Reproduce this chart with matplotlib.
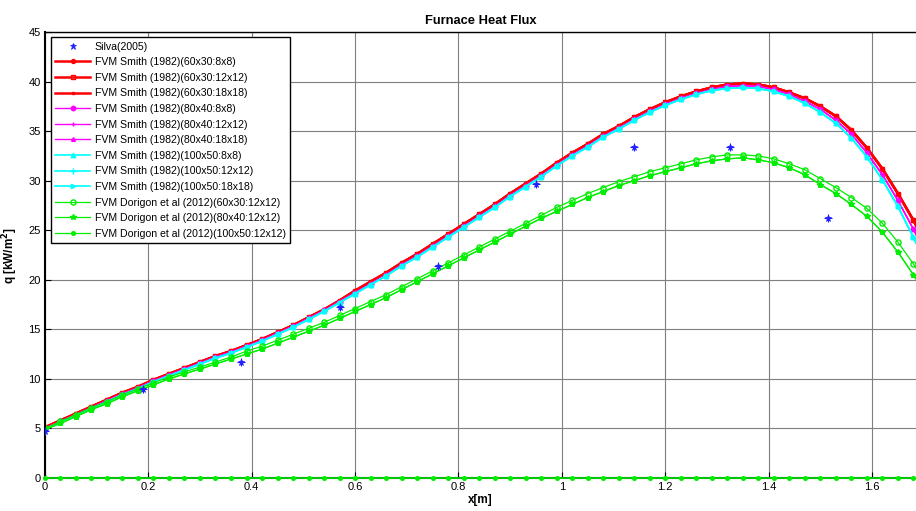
import matplotlib
matplotlib.use("Agg")
import matplotlib.pyplot as plt

plt.rcParams['font.family'] = ['Liberation Sans', 'DejaVu Sans']

title = "Furnace Heat Flux"
xlabel = "x[m]"
ylabel = "q [kW/m$^\\mathbf{2}$]"

x_grid = [0.00, 0.03, 0.06, 0.09, 0.12, 0.15, 0.18, 0.21, 0.24, 0.27, 0.30, 0.33, 0.36, 0.39,
          0.42, 0.45, 0.48, 0.51, 0.54, 0.57, 0.60, 0.63, 0.66, 0.69, 0.72, 0.75, 0.78, 0.81,
          0.84, 0.87, 0.90, 0.93, 0.96, 0.99, 1.02, 1.05, 1.08, 1.11, 1.14, 1.17, 1.20, 1.23,
          1.26, 1.29, 1.32, 1.35, 1.38, 1.41, 1.44, 1.47, 1.50, 1.53, 1.56, 1.59, 1.62, 1.65,
          1.68, 1.71]

smith_60x30 = [5.1, 5.8, 6.5, 7.2, 7.9, 8.6, 9.2, 9.9, 10.5, 11.1, 11.7, 12.3, 12.8, 13.4,
               14.0, 14.7, 15.4, 16.2, 17.0, 17.9, 18.9, 19.8, 20.7, 21.7, 22.6, 23.6, 24.6, 25.6,
               26.6, 27.6, 28.7, 29.7, 30.7, 31.8, 32.8, 33.7, 34.7, 35.5, 36.4, 37.2, 37.9, 38.5,
               39.0, 39.4, 39.7, 39.8, 39.7, 39.4, 38.9, 38.3, 37.5, 36.5, 35.1, 33.3, 31.2, 28.7,
               26.0, 23.0]

smith_80x40 = [5.0, 5.7, 6.4, 7.1, 7.8, 8.5, 9.1, 9.8, 10.4, 11.0, 11.6, 12.2, 12.7, 13.3,
               13.9, 14.6, 15.3, 16.1, 16.9, 17.8, 18.7, 19.6, 20.5, 21.5, 22.4, 23.4, 24.4, 25.4,
               26.4, 27.4, 28.5, 29.5, 30.5, 31.6, 32.6, 33.5, 34.5, 35.3, 36.2, 37.0, 37.7, 38.3,
               38.8, 39.2, 39.5, 39.6, 39.5, 39.2, 38.7, 38.0, 37.2, 36.1, 34.7, 32.8, 30.6, 28.0,
               25.1, 21.9]

smith_100x50 = [4.9, 5.6, 6.3, 7.0, 7.7, 8.4, 9.0, 9.7, 10.3, 10.9, 11.5, 12.1, 12.6, 13.2,
                13.8, 14.5, 15.2, 16.0, 16.8, 17.7, 18.6, 19.5, 20.4, 21.4, 22.3, 23.3, 24.3, 25.3,
                26.3, 27.3, 28.4, 29.4, 30.4, 31.5, 32.5, 33.4, 34.4, 35.2, 36.1, 36.9, 37.6, 38.2,
                38.7, 39.1, 39.3, 39.4, 39.3, 39.0, 38.5, 37.8, 36.9, 35.8, 34.3, 32.4, 30.1, 27.4,
                24.3, 21.0]

dorigon_60x30 = [5.0, 5.7, 6.4, 7.1, 7.7, 8.4, 9.0, 9.6, 10.2, 10.7, 11.2, 11.7, 12.2, 12.8,
                 13.3, 13.9, 14.5, 15.1, 15.7, 16.4, 17.1, 17.8, 18.5, 19.3, 20.1, 20.9, 21.7, 22.5,
                 23.3, 24.1, 24.9, 25.7, 26.5, 27.3, 28.0, 28.7, 29.3, 29.9, 30.4, 30.9, 31.3, 31.7,
                 32.1, 32.4, 32.6, 32.6, 32.5, 32.2, 31.7, 31.1, 30.2, 29.3, 28.3, 27.2, 25.7, 23.8,
                 21.6, 19.2]

dorigon_fine = [4.9, 5.5, 6.2, 6.9, 7.5, 8.2, 8.8, 9.4, 10.0, 10.5, 11.0, 11.5, 12.0, 12.5,
                13.0, 13.6, 14.2, 14.8, 15.4, 16.1, 16.8, 17.5, 18.2, 19.0, 19.8, 20.6, 21.4, 22.2,
                23.0, 23.8, 24.6, 25.4, 26.2, 26.9, 27.6, 28.3, 28.9, 29.5, 30.0, 30.5, 30.9, 31.3,
                31.7, 32.0, 32.2, 32.3, 32.1, 31.8, 31.3, 30.6, 29.6, 28.7, 27.6, 26.4, 24.8, 22.8,
                20.5, 18.0]

zero_series = [0.0] * len(x_grid)

silva_x = [0.0, 0.19, 0.38, 0.57, 0.76, 0.95, 1.14, 1.325, 1.515]
silva_q = [4.7, 9.0, 11.7, 17.3, 21.4, 29.7, 33.4, 33.4, 26.2]

labels = ["Silva(2005)",
          "FVM Smith (1982)(60x30:8x8)",
          "FVM Smith (1982)(60x30:12x12)",
          "FVM Smith (1982)(60x30:18x18)",
          "FVM Smith (1982)(80x40:8x8)",
          "FVM Smith (1982)(80x40:12x12)",
          "FVM Smith (1982)(80x40:18x18)",
          "FVM Smith (1982)(100x50:8x8)",
          "FVM Smith (1982)(100x50:12x12)",
          "FVM Smith (1982)(100x50:18x18)",
          "FVM Dorigon et al (2012)(60x30:12x12)",
          "FVM Dorigon et al (2012)(80x40:12x12)",
          "FVM Dorigon et al (2012)(100x50:12x12)"]

fig = plt.figure(figsize=(9.16, 5.11), dpi=100)
ax = fig.add_axes([0.049, 0.0646, 0.951, 0.8728])

RED, MAG, CYA, GRN = '#ff0000', '#ff00ff', '#00ffff', '#00ee00'
ms = 3.2

ax.plot(silva_x, silva_q, ls='none', marker='*', color='#2020ff', ms=4.5, mew=0.6,
        label=labels[0], zorder=5)
ax.plot(silva_x, silva_q, ls='none', marker='+', color='#2020ff', ms=6, mew=0.8, zorder=5)

ax.plot(x_grid, smith_60x30, '-', color=RED, marker='.', ms=ms + 2.5, lw=1.8, label=labels[1])
ax.plot(x_grid, smith_60x30, '-', color=RED, marker='s', mfc='none', ms=ms, lw=1.8, label=labels[2])
ax.plot(x_grid, smith_60x30, '-', color=RED, marker='s', ms=2, lw=1.8, label=labels[3])
ax.plot(x_grid, smith_80x40, '-', color=MAG, marker='o', ms=ms, lw=1.0, label=labels[4])
ax.plot(x_grid, smith_80x40, '-', color=MAG, marker='+', ms=ms, lw=1.0, label=labels[5])
ax.plot(x_grid, smith_80x40, '-', color=MAG, marker='^', ms=ms - 0.5, lw=1.0, label=labels[6])
ax.plot(x_grid, smith_100x50, '-', color=CYA, marker='^', ms=ms, lw=1.2, label=labels[7])
ax.plot(x_grid, smith_100x50, '-', color=CYA, marker='+', ms=ms + 1, lw=1.2, label=labels[8])
ax.plot(x_grid, smith_100x50, '-', color=CYA, marker='>', ms=ms, lw=1.2, label=labels[9])
ax.plot(x_grid, dorigon_60x30, '-', color=GRN, marker='o', mfc='none', ms=ms + 0.5, lw=0.9, label=labels[10])
ax.plot(x_grid, dorigon_fine, '-', color=GRN, marker='*', ms=ms + 1, lw=0.9, label=labels[11])
ax.plot(x_grid, dorigon_fine, '-', color=GRN, marker='.', ms=ms + 2, lw=0.9, label=labels[12])
ax.plot(x_grid, zero_series, '-', color=GRN, marker='.', ms=ms + 2, lw=1.2, clip_on=False, zorder=6)

ax.set_xlim(0, 1.685)
ax.set_ylim(0, 45)
ax.set_xticks([0, 0.2, 0.4, 0.6, 0.8, 1.0, 1.2, 1.4, 1.6])
ax.set_xticklabels(['0', '0.2', '0.4', '0.6', '0.8', '1', '1.2', '1.4', '1.6'])
ax.set_yticks(range(0, 50, 5))
ax.grid(True, color='#7f7f7f', lw=0.8, ls='-')
ax.set_axisbelow(True)
ax.tick_params(direction='in', length=4, labelsize=8, colors='black', width=0.8, pad=3)
for s in ['left', 'bottom']:
    ax.spines[s].set_linewidth(1.5)
ax.spines['top'].set_linewidth(1.0)
ax.spines['right'].set_visible(False)

ax.set_title(title, fontsize=9.3, fontweight='bold', pad=6)
ax.set_xlabel(xlabel, fontsize=8.5, fontweight='bold', labelpad=1)
ax.set_ylabel(ylabel, fontsize=8.5, fontweight='bold', labelpad=6)

leg = ax.legend(loc='upper left', bbox_to_anchor=(0.007, 0.988), borderaxespad=0,
                fontsize=7.6, frameon=True, fancybox=False, edgecolor='black',
                framealpha=1, handlelength=3.3, handletextpad=0.45, labelspacing=0.53,
                borderpad=0.4)
leg.get_frame().set_linewidth(1.0)

fig.savefig('out.png', dpi=100)
